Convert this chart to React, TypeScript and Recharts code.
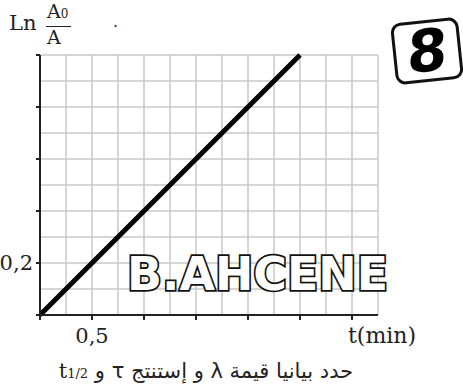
import { LineChart, Line, XAxis, YAxis, CartesianGrid } from "recharts";

// t (min) against Ln(A0/A)
const times = [0, 2.5];
const lnRatio = [0, 1.0];

const xTicks = [0, 0.5, 1, 1.5, 2, 2.5, 3];
const yTicks = [0, 0.2, 0.4, 0.6, 0.8, 1.0];
const gridX = [0, 0.25, 0.5, 0.75, 1, 1.25, 1.5, 1.75, 2, 2.25, 2.5, 2.75, 3, 3.25];
const gridY = [0, 0.1, 0.2, 0.3, 0.4, 0.5, 0.6, 0.7, 0.8, 0.9, 1.0];
const xLabels: Record<string, string> = { "0.5": "0,5" };
const yLabels: Record<string, string> = { "0.2": "0,2" };

const data = times.map((t, i) => ({ t, v: lnRatio[i] }));

const serif = '"DejaVu Serif", "Liberation Serif", serif';

export default function App() {
  return (
    <div
      style={{
        position: "absolute",
        left: 0,
        top: 0,
        width: 463,
        height: 392,
        background: "#fff",
        fontFamily: serif,
        overflow: "hidden",
      }}
    >
      <LineChart
        width={463}
        height={392}
        data={data}
        margin={{ top: 55, right: 85, left: 0, bottom: 0 }}
      >
        <CartesianGrid
          stroke="#c9c9c9"
          strokeWidth={1.5}
          verticalValues={gridX}
          horizontalValues={gridY}
        />
        <XAxis
          dataKey="t"
          type="number"
          domain={[0, 3.25]}
          ticks={xTicks}
          allowDataOverflow
          height={77}
          axisLine={{ stroke: "#222", strokeWidth: 2 }}
          tickLine={{ stroke: "#222", strokeWidth: 2 }}
          tickSize={5}
          tickMargin={8}
          tick={{ fontSize: 21, fill: "#222", fontFamily: serif }}
          tickFormatter={(v: number) => xLabels[String(v)] ?? ""}
        />
        <YAxis
          type="number"
          domain={[0, 1]}
          ticks={yTicks}
          width={40}
          axisLine={{ stroke: "#222", strokeWidth: 2 }}
          tickLine={{ stroke: "#222", strokeWidth: 2 }}
          tickSize={4}
          tickMargin={3}
          tick={{ fontSize: 21, fill: "#222", fontFamily: serif }}
          tickFormatter={(v: number) => yLabels[String(v)] ?? ""}
        />
        <Line
          dataKey="v"
          type="linear"
          stroke="#000"
          strokeWidth={5}
          dot={false}
          isAnimationActive={false}
        />
      </LineChart>

      {/* y-axis title: Ln A0/A */}
      <div style={{ position: "absolute", left: 9, top: 11, fontSize: 21, color: "#222" }}>Ln</div>
      <div
        style={{
          position: "absolute",
          left: 46,
          top: 2,
          width: 25,
          fontSize: 19,
          color: "#222",
          lineHeight: "19px",
        }}
      >
        <div style={{ borderBottom: "1.5px solid #222", paddingBottom: 2, paddingLeft: 1 }}>
          A<span style={{ fontSize: 12 }}>0</span>
        </div>
        <div style={{ paddingTop: 1, paddingLeft: 1 }}>A</div>
      </div>
      <div style={{ position: "absolute", left: 113, top: 12, fontSize: 16, color: "#333" }}>.</div>

      {/* x-axis title */}
      <div style={{ position: "absolute", left: 348, top: 323, fontSize: 22, color: "#222" }}>t(min)</div>

      {/* badge */}
      <div
        style={{
          position: "absolute",
          left: 393,
          top: 20,
          width: 62,
          height: 56,
          border: "3px solid #111",
          borderRadius: 10,
          transform: "rotate(-6deg)",
          display: "flex",
          alignItems: "center",
          justifyContent: "center",
          fontFamily: '"DejaVu Sans", sans-serif',
          fontWeight: "bold",
          fontSize: 58,
          color: "#000",
          lineHeight: 1,
        }}
      >
        <span style={{ display: "inline-block", transform: "skewX(-8deg)" }}>8</span>
      </div>

      {/* watermark */}
      <svg
        width={463}
        height={392}
        style={{ position: "absolute", left: 0, top: 0, pointerEvents: "none" }}
      >
        <text
          x={127}
          y={290}
          textLength={261}
          lengthAdjust="spacingAndGlyphs"
          fontFamily='"DejaVu Sans", sans-serif'
          fontWeight="bold"
          fontSize={47}
          fill="#fff"
          stroke="#111"
          strokeWidth={3.5}
          style={{ paintOrder: "stroke" }}
        >
          B.AHCENE
        </text>
      </svg>

      {/* caption */}
      <div
        dir="rtl"
        style={{
          position: "absolute",
          left: 0,
          width: 412,
          top: 359,
          textAlign: "center",
          fontFamily: '"DejaVu Sans", sans-serif',
          fontSize: 21,
          color: "#222",
          whiteSpace: "nowrap",
        }}
      >
        حدد بيانيا قيمة λ و إستنتج τ و{" "}
        <span dir="ltr" style={{ fontFamily: serif }}>
          t<span style={{ fontSize: 13 }}>1/2</span>
        </span>
      </div>
    </div>
  );
}
